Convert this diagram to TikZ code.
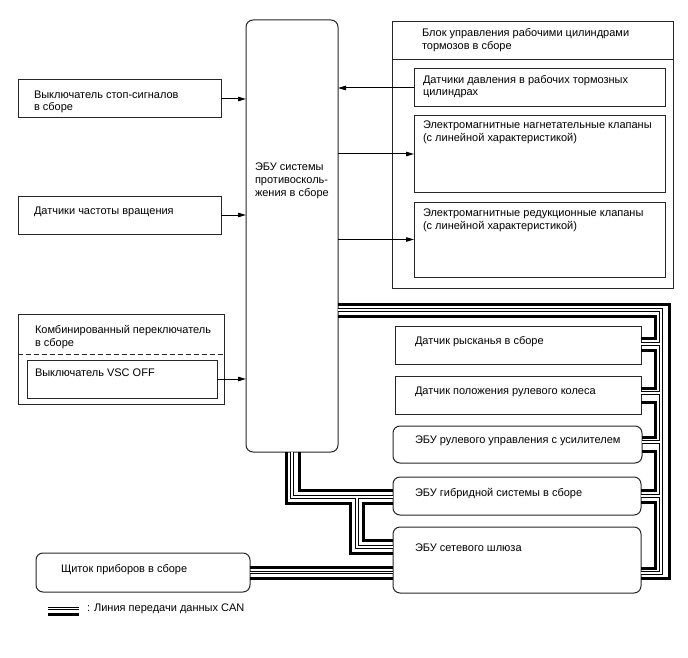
\documentclass[tikz,border=0pt]{standalone}
\usepackage{fontspec}
\setmainfont{Liberation Sans}
\usetikzlibrary{arrows.meta}

\begin{document}
\begin{tikzpicture}[x=1pt, y=-1pt,
    every node/.style={inner sep=0pt, outer sep=0pt},
    box/.style={draw=black!85, line width=1pt, anchor=north west},
    rbox/.style={box, rounded corners=7pt},
    txt/.style={anchor=base west, align=left, font=\fontsize{11}{13}\selectfont},
    arr/.style={line width=1pt, -{Triangle[length=8pt, width=4.5pt]}},
    thk/.style={line width=3pt},
    dbl/.style={white, line width=1.5pt, preaction={draw=black, line width=3.6pt}}]

    \useasboundingbox (0,0) rectangle (688,658);

    \node[rbox, minimum width=92, minimum height=432] (abs) at (246,20) {};

    \node[box, minimum width=203, minimum height=38] (stop) at (18,80) {};
    \node[box, minimum width=203, minimum height=38] (speed) at (18,196) {};
    \node[box, minimum width=206, minimum height=90] (combo) at (18,314) {};
    \node[box, minimum width=190, minimum height=38] (vsc) at (27,360) {};

    \node[box, minimum width=281, minimum height=266] (act) at (392,22) {};
    \node[box, minimum width=251, minimum height=38] (bp) at (414,69) {};
    \node[box, minimum width=251, minimum height=76] (ev1) at (414,116) {};
    \node[box, minimum width=251, minimum height=75] (ev2) at (414,202) {};

    \node[box, minimum width=246, minimum height=38] (yaw) at (395,326) {};
    \node[box, minimum width=246, minimum height=38] (steer) at (395,376) {};
    \node[rbox, minimum width=249, minimum height=37] (eps) at (393,426) {};
    \node[rbox, minimum width=248, minimum height=38] (hyb) at (393,477) {};
    \node[rbox, minimum width=248, minimum height=66] (gw) at (393,527) {};
    \node[rbox, minimum width=214, minimum height=39] (meter) at (36,553) {};

    \node[txt] (abs-t) at (255,196) {ЭБУ системы\\противосколь-\\жения в сборе};
    \node[txt] (stop-t) at (34,111) {Выключатель стоп-сигналов\\в сборе};
    \node[txt] (speed-t) at (34,214) {Датчики частоты вращения};
    \node[txt] (combo-t) at (35,346) {Комбинированный переключатель\\в сборе};
    \node[txt] (vsc-t) at (35,376) {Выключатель VSC OFF};
    \node[txt] (act-t) at (422,50) {Блок управления рабочими цилиндрами\\тормозов в сборе};
    \node[txt] (bp-t) at (423,96) {Датчики давления в рабочих тормозных\\цилиндрах};
    \node[txt] (ev1-t) at (423,142) {Электромагнитные нагнетательные клапаны\\(с линейной характеристикой)};
    \node[txt] (ev2-t) at (423,229) {Электромагнитные редукционные клапаны\\(с линейной характеристикой)};
    \node[txt] (yaw-t) at (415,344) {Датчик рысканья в сборе};
    \node[txt] (steer-t) at (415,394) {Датчик положения рулевого колеса};
    \node[txt] (eps-t) at (415,443) {ЭБУ рулевого управления с усилителем};
    \node[txt] (hyb-t) at (415,496) {ЭБУ гибридной системы в сборе};
    \node[txt] (gw-t) at (415,551) {ЭБУ сетевого шлюза};
    \node[txt] (meter-t) at (61,572) {Щиток приборов в сборе};
    \node[txt] (key-t) at (87,611) {: Линия передачи данных CAN};

    \draw[black!85, line width=1pt] (act.west |- 0,60) -- (act.east |- 0,60);
    \draw[black!85, line width=1pt, dash pattern=on 5pt off 3pt] (combo.west |- 0,354) -- (combo.east |- 0,354);

    \draw[arr] (stop.east) -- (stop.east -| abs.west);
    \draw[arr] (speed.east) -- (speed.east -| abs.west);
    \draw[arr] (vsc.east) -- (vsc.east -| abs.west);
    \draw[arr] (bp.west) -- (bp.west -| abs.east);
    \draw[arr] (ev1.west -| abs.east) -- (ev1.west);
    \draw[arr] (ev2.west -| abs.east) -- (ev2.west);

    \draw[thk] (abs.east |- 0,304) -| (669,578) -- (gw.east |- 0,578);
    \draw[dbl] (abs.east |- 0,310) -| (661,573) -- (gw.east |- 0,573)
        (661,344) -- (yaw.east |- 0,344)
        (661,393) -- (steer.east |- 0,393)
        (661,442) -- (eps.east |- 0,442)
        (661,496) -- (hyb.east |- 0,496);
    \draw[thk] (abs.east |- 0,316) -| (655,338) -- (yaw.east |- 0,338);
    \draw[thk] (yaw.east |- 0,350) -| (655,388) -- (steer.east |- 0,388);
    \draw[thk] (steer.east |- 0,402) -| (655,437) -- (eps.east |- 0,437);
    \draw[thk] (eps.east |- 0,451) -| (655,490) -- (hyb.east |- 0,490);
    \draw[thk] (hyb.east |- 0,502) -| (655,568) -- (gw.east |- 0,568);

    \draw[thk] (abs.south -| 286,0) |- (350,503) |- (gw.west |- 0,553);
    \draw[dbl] (abs.south -| 292,0) |- (hyb.west |- 0,497)
        (357,497) |- (gw.west |- 0,547);
    \draw[thk] (abs.south -| 299,0) |- (hyb.west |- 0,490);
    \draw[thk] (hyb.west |- 0,503) -| (363,540) -- (gw.west |- 0,540);

    \draw[thk] (meter.east |- 0,567) -- (gw.west |- 0,567);
    \draw[dbl] (meter.east |- 0,572.5) -- (gw.west |- 0,572.5);
    \draw[thk] (meter.east |- 0,578) -- (gw.west |- 0,578);

    \coordinate (k1) at (48,608.5);
    \coordinate (k2) at (79,608.5);
    \coordinate (k3) at (48,614.5);
    \coordinate (k4) at (79,614.5);
    \draw[dbl] (k1) -- (k2);
    \draw[thk] (k3) -- (k4);

\end{tikzpicture}
\end{document}
